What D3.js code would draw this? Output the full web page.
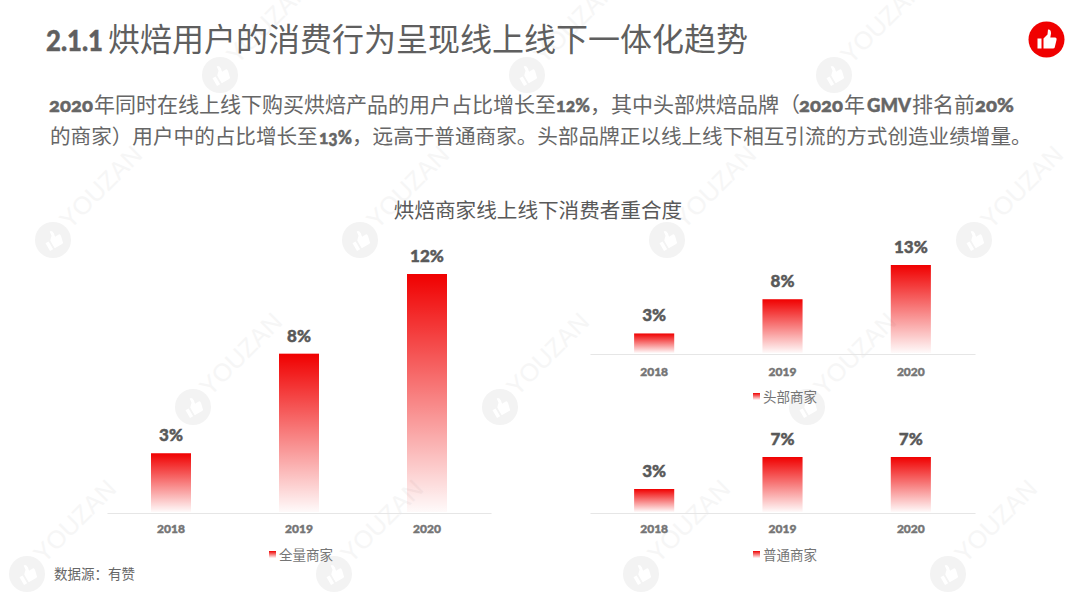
<!DOCTYPE html>
<html lang="zh-CN">
<head>
<meta charset="utf-8">
<title>烘焙商家线上线下消费者重合度</title>
<script src="https://cdn.jsdelivr.net/npm/d3@7/dist/d3.min.js"></script>
<style>
  html, body { margin: 0; padding: 0; background: #fff; }
  svg { display: block; }
  text { font-family: "Noto Sans CJK SC", "Noto Sans", sans-serif; }
  .latin { font-family: Lato, "DejaVu Sans", sans-serif; font-weight: 900; stroke-width: 0.45px; }
  .oldstyle { font-variant-numeric: oldstyle-nums; font-feature-settings: "onum" 1; }
</style>
</head>
<body>
<div id="chart"></div>
<script>
// Chart data
const years = ["2018", "2019", "2020"];
const allMerchants = [3, 8, 12];
const topMerchants = [3, 8, 13];
const regularMerchants = [3, 7, 7];
const chartTitle = "烘焙商家线上线下消费者重合度";
const sourceNote = "数据源：有赞";
const headingRuns = [["2.1.1", 1], ["烘焙用户的消费行为呈现线上线下一体化趋势", 0]];
const bodyLine1 = [["2020", 1], ["年同时在线上线下购买烘焙产品的用户占比增长至", 0], ["12%", 1], ["，其中头部烘焙品牌（", 0], ["2020", 1], ["年", 0], ["GMV", 1], ["排名前", 0], ["20%", 1]];
const bodyLine2 = [["的商家）用户中的占比增长至", 0], ["13%", 1], ["，远高于普通商家。头部品牌正以线上线下相互引流的方式创造业绩增量。", 0]];

// Left edge of each run, and the width the heavy Latin runs are fitted to
const headingStops = [46, 108];
const line1Stops = [49, 94, 556, 590, 799, 844, 867, 912, 975];
const line2Stops = [50, 319, 352];
const headingFit = [57, 0];
const line1Fit = [44, 0, 34, 0, 44, 0, 44, 0, 39];
const line2Fit = [0, 33, 0];

const width = 1080, height = 598;
const RED = "#f00000";
const thumbPath = "M-9,-1H-5V9H-9Z M-3,-1L1,-5L1.5,-10Q4.5,-10.5 4.5,-6L3.8,-2H8.5Q10.5,-2 10,0.5L8.2,8Q8,9 6.5,9H-3Z";

const svg = d3.select("#chart").append("svg")
  .attr("width", width).attr("height", height)
  .attr("viewBox", [0, 0, width, height]);

// Vertical fade shared by every bar and legend swatch
const grad = svg.append("defs").append("linearGradient")
  .attr("id", "barFade").attr("x1", 0).attr("y1", 0).attr("x2", 0).attr("y2", 1);
grad.append("stop").attr("offset", "0%").attr("stop-color", RED);
grad.append("stop").attr("offset", "100%").attr("stop-color", RED).attr("stop-opacity", 0.02);

// Repeating brand watermark
const markRows = [
  { y: 75, xs: [220, 527, 834] },
  { y: 240, xs: [53, 360, 667, 974] },
  { y: 407, xs: [193, 500, 807] },
  { y: 574, xs: [27, 334, 641, 948] }
];
const marks = svg.append("g");
markRows.forEach(row => row.xs.forEach(x => {
  const g = marks.append("g").attr("transform", `translate(${x},${row.y})`);
  g.append("circle").attr("r", 18).attr("fill", "#f3f3f3");
  g.append("path").attr("d", thumbPath).attr("fill", "#fff")
    .attr("transform", "rotate(-30) scale(0.9)");
  g.append("text").text("YOUZAN")
    .attr("transform", "translate(17,-10) rotate(-45)")
    .attr("font-size", 25)
    .style("font-family", "'Liberation Sans', sans-serif")
    .attr("fill", "#f6f6f6");
}));

// Mixed-script line: heavy Latin runs set between regular CJK runs
function richText(runs, stops, fits, y, size, latinSize, latinClass, fill) {
  const t = svg.append("text").attr("y", y).attr("fill", fill).attr("font-size", size);
  runs.forEach(([s, latin], i) => {
    const span = t.append("tspan").attr("x", stops[i]).text(s);
    if (latin) {
      span.attr("class", latinClass).attr("font-size", latinSize).attr("stroke", fill)
        .attr("textLength", fits[i]).attr("lengthAdjust", "spacingAndGlyphs");
    }
  });
  return t;
}
richText(headingRuns, headingStops, headingFit, 50.5, 32, 28, "latin", "#5f5f5f");
richText(bodyLine1, line1Stops, line1Fit, 112, 21, 19, "latin oldstyle", "#666");
richText(bodyLine2, line2Stops, line2Fit, 144, 20.6, 19, "latin oldstyle", "#666");

// Badge in the top right corner
const badge = svg.append("g").attr("transform", "translate(1046.5,39.5)");
badge.append("circle").attr("r", 18).attr("fill", RED);
badge.append("path").attr("d", thumbPath).attr("fill", "#fff");

svg.append("text").text(chartTitle)
  .attr("x", 538).attr("y", 218).attr("text-anchor", "middle")
  .attr("font-size", 20.6).attr("fill", "#595959");

svg.append("text").text(sourceNote)
  .attr("x", 54).attr("y", 579).attr("font-size", 13.5).attr("fill", "#666");

const panels = [
  { name: "全量商家", values: allMerchants, x0: 107, x1: 491, base: 513, barMax: 239, tickGap: 11, legendX: 269, legendY: 551 },
  { name: "头部商家", values: topMerchants, x0: 590, x1: 975, base: 354, barMax: 89, tickGap: 13, legendX: 753, legendY: 393 },
  { name: "普通商家", values: regularMerchants, x0: 590, x1: 975, base: 513, barMax: 56, tickGap: 11, legendX: 753, legendY: 551 }
];

panels.forEach(p => {
  const x = d3.scaleBand().domain(years).range([p.x0, p.x1]).paddingInner(0.6875).paddingOuter(0.34375);
  const y = d3.scaleLinear().domain([0, d3.max(p.values)]).range([p.base, p.base - p.barMax]);
  const g = svg.append("g");

  const axis = g.append("g").attr("transform", `translate(0,${p.base})`)
    .call(d3.axisBottom(x).tickSize(0).tickPadding(p.tickGap));
  axis.select(".domain").attr("stroke", "#e6e6e6").attr("stroke-width", 1.2);
  axis.selectAll("text").attr("class", "latin").attr("font-size", 12)
    .attr("fill", "#757575").attr("stroke", "#757575");

  const data = years.map((year, i) => ({ year, value: p.values[i] }));
  g.selectAll("rect.bar").data(data).join("rect").attr("class", "bar")
    .attr("x", d => x(d.year)).attr("width", x.bandwidth())
    .attr("y", d => y(d.value)).attr("height", d => p.base - y(d.value) - 1)
    .attr("fill", "url(#barFade)");

  g.selectAll("text.value").data(data).join("text").attr("class", "value latin")
    .attr("x", d => x(d.year) + x.bandwidth() / 2).attr("y", d => y(d.value) - 12)
    .attr("text-anchor", "middle").attr("font-size", 17)
    .attr("fill", "#595959").attr("stroke", "#595959")
    .text(d => `${d.value}%`);

  g.append("rect").attr("x", p.legendX).attr("y", p.legendY)
    .attr("width", 7).attr("height", 7).attr("fill", "url(#barFade)");
  g.append("text").text(p.name).attr("x", p.legendX + 10).attr("y", p.legendY + 9)
    .attr("font-size", 13.5).attr("fill", "#757575");
});
</script>
</body>
</html>
